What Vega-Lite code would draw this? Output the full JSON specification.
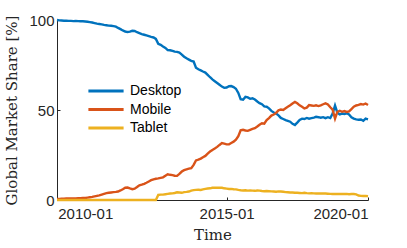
{
  "$schema": "https://vega.github.io/schema/vega-lite/v6.json",
  "width": 311,
  "height": 180,
  "autosize": {"type": "none"},
  "padding": {"left": 57, "top": 20, "right": 39, "bottom": 48},
  "background": "white",
  "config": {
    "view": {"stroke": null},
    "axis": {
      "grid": false,
      "domainColor": "#262626",
      "tickColor": "#262626",
      "labelColor": "#262626",
      "labelFont": "Liberation Sans",
      "labelFontSize": 15,
      "titleFont": "DejaVu Serif",
      "titleFontSize": 15,
      "titleFontWeight": "normal",
      "titleColor": "#262626",
      "domainWidth": 1,
      "tickWidth": 1
    }
  },
  "data": {
    "values": [
      {"t":"2009-01-01","Desktop":100,"Mobile":0.6,"Tablet":0},
      {"t":"2009-02-01","Desktop":99.8,"Mobile":0.6,"Tablet":0},
      {"t":"2009-03-01","Desktop":99.7,"Mobile":0.7,"Tablet":0},
      {"t":"2009-04-01","Desktop":99.6,"Mobile":0.7,"Tablet":0},
      {"t":"2009-05-01","Desktop":99.6,"Mobile":0.8,"Tablet":0},
      {"t":"2009-06-01","Desktop":99.5,"Mobile":0.8,"Tablet":0},
      {"t":"2009-07-01","Desktop":99.5,"Mobile":0.8,"Tablet":0},
      {"t":"2009-08-01","Desktop":99.4,"Mobile":0.9,"Tablet":0},
      {"t":"2009-09-01","Desktop":99.5,"Mobile":0.9,"Tablet":0},
      {"t":"2009-10-01","Desktop":99.4,"Mobile":1.0,"Tablet":0},
      {"t":"2009-11-01","Desktop":99.3,"Mobile":1.0,"Tablet":0},
      {"t":"2009-12-01","Desktop":99.3,"Mobile":1.1,"Tablet":0},
      {"t":"2010-01-01","Desktop":99.2,"Mobile":1.1,"Tablet":0},
      {"t":"2010-02-01","Desktop":99.0,"Mobile":1.3,"Tablet":0},
      {"t":"2010-03-01","Desktop":98.8,"Mobile":1.5,"Tablet":0},
      {"t":"2010-04-01","Desktop":98.6,"Mobile":1.7,"Tablet":0},
      {"t":"2010-05-01","Desktop":98.3,"Mobile":2.0,"Tablet":0},
      {"t":"2010-06-01","Desktop":98.0,"Mobile":2.3,"Tablet":0},
      {"t":"2010-07-01","Desktop":97.8,"Mobile":2.6,"Tablet":0},
      {"t":"2010-08-01","Desktop":97.6,"Mobile":3.0,"Tablet":0},
      {"t":"2010-09-01","Desktop":97.3,"Mobile":3.4,"Tablet":0},
      {"t":"2010-10-01","Desktop":97.1,"Mobile":3.8,"Tablet":0},
      {"t":"2010-11-01","Desktop":96.9,"Mobile":4.0,"Tablet":0},
      {"t":"2010-12-01","Desktop":96.8,"Mobile":4.2,"Tablet":0},
      {"t":"2011-01-01","Desktop":96.6,"Mobile":4.4,"Tablet":0},
      {"t":"2011-02-01","Desktop":96.3,"Mobile":4.5,"Tablet":0},
      {"t":"2011-03-01","Desktop":95.6,"Mobile":4.7,"Tablet":0},
      {"t":"2011-04-01","Desktop":94.9,"Mobile":5.3,"Tablet":0},
      {"t":"2011-05-01","Desktop":94.2,"Mobile":6.0,"Tablet":0},
      {"t":"2011-06-01","Desktop":93.6,"Mobile":6.8,"Tablet":0},
      {"t":"2011-07-01","Desktop":93.3,"Mobile":6.9,"Tablet":0},
      {"t":"2011-08-01","Desktop":93.5,"Mobile":6.4,"Tablet":0},
      {"t":"2011-09-01","Desktop":94.0,"Mobile":6.0,"Tablet":0},
      {"t":"2011-10-01","Desktop":93.9,"Mobile":6.3,"Tablet":0},
      {"t":"2011-11-01","Desktop":93.2,"Mobile":7.2,"Tablet":0},
      {"t":"2011-12-01","Desktop":92.7,"Mobile":8.2,"Tablet":0},
      {"t":"2012-01-01","Desktop":92.2,"Mobile":8.5,"Tablet":0},
      {"t":"2012-02-01","Desktop":91.8,"Mobile":9.0,"Tablet":0},
      {"t":"2012-03-01","Desktop":91.4,"Mobile":9.6,"Tablet":0},
      {"t":"2012-04-01","Desktop":91.0,"Mobile":10.3,"Tablet":0},
      {"t":"2012-05-01","Desktop":90.6,"Mobile":11.0,"Tablet":0},
      {"t":"2012-06-01","Desktop":90.3,"Mobile":11.5,"Tablet":0},
      {"t":"2012-07-01","Desktop":89.5,"Mobile":11.8,"Tablet":0},
      {"t":"2012-08-01","Desktop":86.8,"Mobile":12.0,"Tablet":2.8},
      {"t":"2012-09-01","Desktop":86.2,"Mobile":12.3,"Tablet":3.0},
      {"t":"2012-10-01","Desktop":85.3,"Mobile":12.6,"Tablet":3.0},
      {"t":"2012-11-01","Desktop":84.5,"Mobile":13.5,"Tablet":3.2},
      {"t":"2012-12-01","Desktop":83.3,"Mobile":14.3,"Tablet":3.4},
      {"t":"2013-01-01","Desktop":83.2,"Mobile":14.0,"Tablet":3.6},
      {"t":"2013-02-01","Desktop":82.8,"Mobile":13.8,"Tablet":3.7},
      {"t":"2013-03-01","Desktop":82.4,"Mobile":13.5,"Tablet":3.9},
      {"t":"2013-04-01","Desktop":82.3,"Mobile":13.4,"Tablet":4.3},
      {"t":"2013-05-01","Desktop":81.9,"Mobile":14.5,"Tablet":4.2},
      {"t":"2013-06-01","Desktop":80.8,"Mobile":15.8,"Tablet":4.0},
      {"t":"2013-07-01","Desktop":79.6,"Mobile":16.6,"Tablet":4.4},
      {"t":"2013-08-01","Desktop":78.7,"Mobile":17.0,"Tablet":4.5},
      {"t":"2013-09-01","Desktop":78.0,"Mobile":17.4,"Tablet":4.7},
      {"t":"2013-10-01","Desktop":77.3,"Mobile":17.7,"Tablet":5.2},
      {"t":"2013-11-01","Desktop":76.9,"Mobile":19.5,"Tablet":5.5},
      {"t":"2013-12-01","Desktop":73.5,"Mobile":22.0,"Tablet":5.6},
      {"t":"2014-01-01","Desktop":72.6,"Mobile":22.4,"Tablet":5.7},
      {"t":"2014-02-01","Desktop":72.0,"Mobile":23.0,"Tablet":5.6},
      {"t":"2014-03-01","Desktop":71.4,"Mobile":23.8,"Tablet":5.9},
      {"t":"2014-04-01","Desktop":70.8,"Mobile":24.5,"Tablet":6.2},
      {"t":"2014-05-01","Desktop":69.5,"Mobile":25.8,"Tablet":6.4},
      {"t":"2014-06-01","Desktop":68.2,"Mobile":26.9,"Tablet":6.5},
      {"t":"2014-07-01","Desktop":67.0,"Mobile":27.8,"Tablet":6.8},
      {"t":"2014-08-01","Desktop":66.0,"Mobile":28.6,"Tablet":6.9},
      {"t":"2014-09-01","Desktop":65.0,"Mobile":29.5,"Tablet":6.8},
      {"t":"2014-10-01","Desktop":64.0,"Mobile":30.6,"Tablet":6.9},
      {"t":"2014-11-01","Desktop":63.0,"Mobile":31.6,"Tablet":6.8},
      {"t":"2014-12-01","Desktop":62.3,"Mobile":31.3,"Tablet":6.5},
      {"t":"2015-01-01","Desktop":62.5,"Mobile":30.9,"Tablet":6.3},
      {"t":"2015-02-01","Desktop":63.2,"Mobile":31.0,"Tablet":6.1},
      {"t":"2015-03-01","Desktop":63.3,"Mobile":31.7,"Tablet":6.2},
      {"t":"2015-04-01","Desktop":62.7,"Mobile":32.4,"Tablet":6.0},
      {"t":"2015-05-01","Desktop":61.8,"Mobile":33.5,"Tablet":5.9},
      {"t":"2015-06-01","Desktop":59.5,"Mobile":35.5,"Tablet":5.6},
      {"t":"2015-07-01","Desktop":56.0,"Mobile":38.7,"Tablet":5.4},
      {"t":"2015-08-01","Desktop":55.7,"Mobile":39.0,"Tablet":5.3},
      {"t":"2015-09-01","Desktop":57.3,"Mobile":38.6,"Tablet":5.4},
      {"t":"2015-10-01","Desktop":57.0,"Mobile":38.4,"Tablet":5.2},
      {"t":"2015-11-01","Desktop":56.2,"Mobile":39.0,"Tablet":5.3},
      {"t":"2015-12-01","Desktop":56.5,"Mobile":39.5,"Tablet":5.2},
      {"t":"2016-01-01","Desktop":55.8,"Mobile":39.9,"Tablet":5.1},
      {"t":"2016-02-01","Desktop":54.7,"Mobile":40.8,"Tablet":5.3},
      {"t":"2016-03-01","Desktop":53.8,"Mobile":41.8,"Tablet":5.2},
      {"t":"2016-04-01","Desktop":53.2,"Mobile":42.6,"Tablet":5.0},
      {"t":"2016-05-01","Desktop":52.0,"Mobile":42.4,"Tablet":4.9},
      {"t":"2016-06-01","Desktop":51.8,"Mobile":44.4,"Tablet":5.0},
      {"t":"2016-07-01","Desktop":50.9,"Mobile":45.5,"Tablet":4.9},
      {"t":"2016-08-01","Desktop":49.5,"Mobile":46.9,"Tablet":4.8},
      {"t":"2016-09-01","Desktop":48.6,"Mobile":47.5,"Tablet":4.7},
      {"t":"2016-10-01","Desktop":48.0,"Mobile":48.4,"Tablet":4.6},
      {"t":"2016-11-01","Desktop":47.0,"Mobile":49.8,"Tablet":4.8},
      {"t":"2016-12-01","Desktop":45.6,"Mobile":50.3,"Tablet":4.7},
      {"t":"2017-01-01","Desktop":45.0,"Mobile":50.0,"Tablet":4.6},
      {"t":"2017-02-01","Desktop":44.4,"Mobile":51.0,"Tablet":4.4},
      {"t":"2017-03-01","Desktop":44.0,"Mobile":51.8,"Tablet":4.3},
      {"t":"2017-04-01","Desktop":43.5,"Mobile":52.6,"Tablet":4.2},
      {"t":"2017-05-01","Desktop":42.3,"Mobile":53.6,"Tablet":4.2},
      {"t":"2017-06-01","Desktop":41.7,"Mobile":54.5,"Tablet":4.0},
      {"t":"2017-07-01","Desktop":43.0,"Mobile":53.7,"Tablet":4.0},
      {"t":"2017-08-01","Desktop":44.5,"Mobile":52.6,"Tablet":3.9},
      {"t":"2017-09-01","Desktop":45.2,"Mobile":51.8,"Tablet":3.8},
      {"t":"2017-10-01","Desktop":45.0,"Mobile":50.9,"Tablet":4.0},
      {"t":"2017-11-01","Desktop":45.6,"Mobile":51.3,"Tablet":3.8},
      {"t":"2017-12-01","Desktop":45.2,"Mobile":52.7,"Tablet":3.7},
      {"t":"2018-01-01","Desktop":45.5,"Mobile":52.5,"Tablet":3.8},
      {"t":"2018-02-01","Desktop":45.8,"Mobile":52.3,"Tablet":3.7},
      {"t":"2018-03-01","Desktop":46.2,"Mobile":52.6,"Tablet":3.6},
      {"t":"2018-04-01","Desktop":46.0,"Mobile":52.2,"Tablet":3.7},
      {"t":"2018-05-01","Desktop":45.7,"Mobile":52.6,"Tablet":3.6},
      {"t":"2018-06-01","Desktop":46.0,"Mobile":53.2,"Tablet":3.7},
      {"t":"2018-07-01","Desktop":45.5,"Mobile":53.7,"Tablet":3.6},
      {"t":"2018-08-01","Desktop":46.0,"Mobile":53.1,"Tablet":3.5},
      {"t":"2018-09-01","Desktop":45.5,"Mobile":51.5,"Tablet":3.4},
      {"t":"2018-10-01","Desktop":48.0,"Mobile":50.2,"Tablet":3.3},
      {"t":"2018-11-01","Desktop":52.5,"Mobile":45.2,"Tablet":3.3},
      {"t":"2018-12-01","Desktop":48.5,"Mobile":49.0,"Tablet":3.4},
      {"t":"2019-01-01","Desktop":47.6,"Mobile":49.6,"Tablet":3.3},
      {"t":"2019-02-01","Desktop":48.0,"Mobile":49.0,"Tablet":3.4},
      {"t":"2019-03-01","Desktop":47.8,"Mobile":49.4,"Tablet":3.3},
      {"t":"2019-04-01","Desktop":48.2,"Mobile":48.9,"Tablet":3.4},
      {"t":"2019-05-01","Desktop":47.5,"Mobile":49.2,"Tablet":3.2},
      {"t":"2019-06-01","Desktop":46.0,"Mobile":50.5,"Tablet":3.3},
      {"t":"2019-07-01","Desktop":45.2,"Mobile":51.8,"Tablet":3.3},
      {"t":"2019-08-01","Desktop":44.8,"Mobile":52.5,"Tablet":3.1},
      {"t":"2019-09-01","Desktop":44.6,"Mobile":52.8,"Tablet":2.5},
      {"t":"2019-10-01","Desktop":44.7,"Mobile":53.3,"Tablet":2.3},
      {"t":"2019-11-01","Desktop":44.0,"Mobile":53.0,"Tablet":2.2},
      {"t":"2019-12-01","Desktop":45.2,"Mobile":53.6,"Tablet":2.3},
      {"t":"2020-01-01","Desktop":44.8,"Mobile":52.8,"Tablet":2.1}
    ]
  },
  "transform": [
    {"fold": ["Desktop", "Mobile", "Tablet"], "as": ["s", "v"]}
  ],
  "mark": {"type": "line", "strokeWidth": 2.4, "clip": false},
  "encoding": {
    "x": {
      "field": "t",
      "type": "temporal",
      "scale": {
        "type": "utc",
        "domain": [
          {"year": 2009, "month": 1, "date": 1, "utc": true},
          {"year": 2020, "month": 1, "date": 1, "utc": true}
        ]
      },
      "axis": {
        "title": "Time",
        "values": [
          {"year": 2010, "month": 1, "date": 1, "utc": true},
          {"year": 2015, "month": 1, "date": 1, "utc": true},
          {"year": 2020, "month": 1, "date": 1, "utc": true}
        ],
        "format": "%Y-%m",
        "tickSize": -3,
        "labelPadding": 9,
        "titlePadding": 6
      }
    },
    "y": {
      "field": "v",
      "type": "quantitative",
      "scale": {"domain": [0, 100], "nice": false, "zero": true},
      "axis": {
        "title": "Global Market Share [%]",
        "values": [0, 50, 100],
        "tickSize": -3,
        "labelPadding": 6,
        "titlePadding": 9
      }
    },
    "color": {
      "field": "s",
      "type": "nominal",
      "scale": {
        "domain": ["Desktop", "Mobile", "Tablet"],
        "range": ["#0072BD", "#D95319", "#EDB120"]
      },
      "legend": {
        "title": null,
        "orient": "none",
        "legendX": 42,
        "legendY": 64,
        "symbolType": "M-3.2,0H3.2",
        "symbolSize": 121,
        "symbolStrokeWidth": 3,
        "symbolFillColor": "transparent",
        "rowPadding": 4.5,
        "labelFont": "Liberation Sans",
        "labelFontSize": 14,
        "labelColor": "#000000",
        "labelOffset": 17
      }
    }
  }
}
